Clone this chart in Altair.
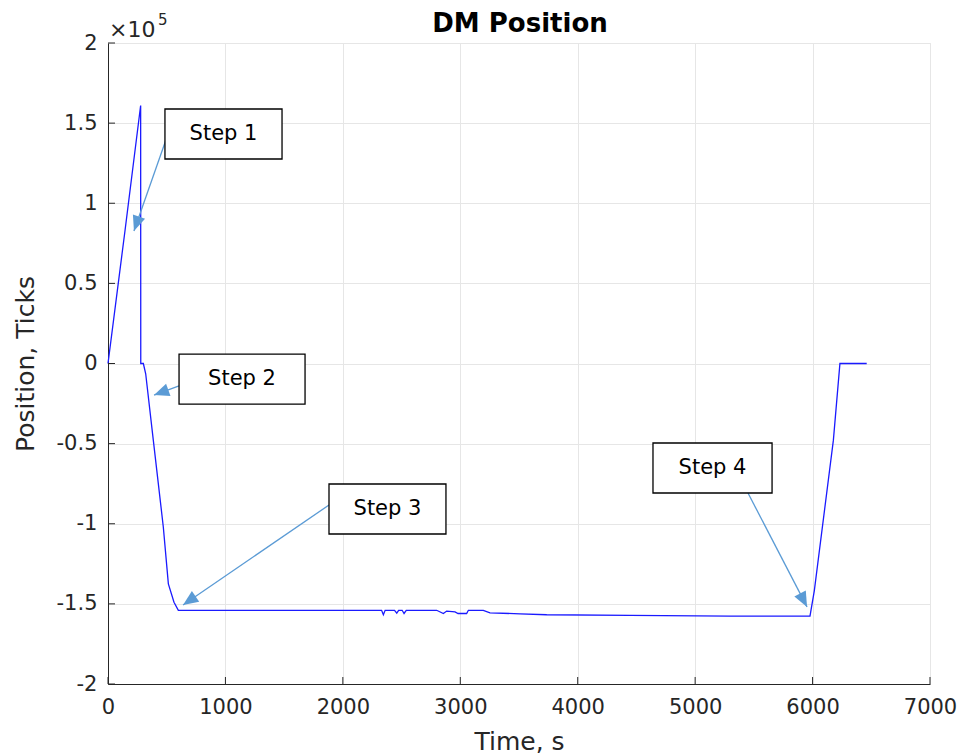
import math
import altair as alt
import pandas as pd

# ---- data ----
time_s = [0, 145, 278, 279, 301, 321, 386, 471, 514, 562, 599,
          2330, 2345, 2360, 2440, 2459, 2475, 2505, 2521, 2540,
          2799, 2856, 2884, 2955, 2981, 3054, 3069, 3196, 3253,
          3509, 3736, 4445, 5297, 5978, 6015, 6177, 6233, 6461]
position_ticks = [0, 83000, 161000, 0, 0, -6400, -48000, -102000, -137500, -149000, -154000,
                  -154000, -156800, -154000, -154000, -155800, -154000, -154000, -156000, -154000,
                  -154000, -156000, -154500, -155000, -156000, -156000, -154000, -154000, -155600,
                  -156200, -156800, -157200, -157700, -157700, -141700, -48000, 0, 0]

x_ticks = [0, 1000, 2000, 3000, 4000, 5000, 6000, 7000]
y_ticks = [-200000, -150000, -100000, -50000, 0, 50000, 100000, 150000, 200000]

step_labels = ["Step 1", "Step 2", "Step 3", "Step 4"]
box_x1 = [485, 605, 1882, 4641]
box_x2 = [1482, 1678, 2878, 5655]
box_y1 = [158800, 5900, -75200, -49600]
box_y2 = [127600, -25300, -106400, -80800]
arrow_x_from = [502, 605, 1882, 5450]
arrow_y_from = [141300, -14000, -88300, -80800]
arrow_x_to = [221, 392, 639, 5953]
arrow_y_to = [82700, -19700, -150700, -151900]

# ---- layout ----
W, H = 822, 641
XMAX, YMIN, YMAX = 7000, -200000, 200000
FONT = "DejaVu Sans"
AX = "#262626"
ARROW = "#5b9bd5"

xs = alt.Scale(domain=[0, XMAX], nice=False, zero=False)
ys = alt.Scale(domain=[YMIN, YMAX], nice=False, zero=False)
xa = alt.Axis(values=x_ticks, title="Time, s", grid=True, tickSize=0,
              labelPadding=12, labelFlush=False, labelOverlap=False,
              titleY=65, titleBaseline="alphabetic", format="d")
ya = alt.Axis(values=y_ticks, title="Position, Ticks", grid=True, tickSize=0,
              labelPadding=11, labelFlush=False, labelOverlap=False,
              labelExpr="'' + datum.value / 100000",
              titleX=-75, titleY=H / 2, titleAngle=270,
              titleBaseline="alphabetic", titleAlign="center")


def X(f):
    return alt.X(f, scale=xs, axis=xa, title="Time, s")


def Y(f):
    return alt.Y(f, scale=ys, axis=ya, title="Position, Ticks")


df = pd.DataFrame({"i": range(len(time_s)), "time": time_s, "pos": position_ticks})

# arrow angles computed from data coords through the chart scale
angles = []
for x0, y0, x1, y1 in zip(arrow_x_from, arrow_y_from, arrow_x_to, arrow_y_to):
    dx = (x1 - x0) * W / XMAX
    dy = -(y1 - y0) * H / (YMAX - YMIN)
    angles.append(math.degrees(math.atan2(dy, dx)) % 360)

ann = pd.DataFrame({
    "label": step_labels,
    "bx1": box_x1, "bx2": box_x2, "by1": box_y1, "by2": box_y2,
    "bxc": [(a + b) / 2 for a, b in zip(box_x1, box_x2)],
    "byc": [(a + b) / 2 for a, b in zip(box_y1, box_y2)],
    "ax0": arrow_x_from, "ay0": arrow_y_from,
    "ax1": arrow_x_to, "ay1": arrow_y_to, "ang": angles,
})

line = alt.Chart(df).mark_line(color="#1a1aff", strokeWidth=1.3).encode(
    x=X("time:Q"), y=Y("pos:Q"), order="i:Q")

xt = alt.Chart(pd.DataFrame({"v": x_ticks})).mark_rule(color=AX, strokeWidth=1).encode(
    x=X("v:Q"), y=alt.value(H), y2=alt.value(H - 7))
yt = alt.Chart(pd.DataFrame({"v": y_ticks})).mark_rule(color=AX, strokeWidth=1).encode(
    y=Y("v:Q"), x=alt.value(0), x2=alt.value(7))

boxes = alt.Chart(ann).mark_rect(fill="white", stroke="black", strokeWidth=1.3).encode(
    x=X("bx1:Q"), x2="bx2:Q", y=Y("by1:Q"), y2="by2:Q")
box_text = alt.Chart(ann).mark_text(font=FONT, fontSize=21, color="black",
                                    align="center", baseline="middle").encode(
    x=X("bxc:Q"), y=Y("byc:Q"), text="label:N")

arrows = alt.Chart(ann).mark_rule(color=ARROW, strokeWidth=1.3).encode(
    x=X("ax0:Q"), y=Y("ay0:Q"), x2="ax1:Q", y2="ay1:Q")
heads = alt.Chart(ann).mark_point(
    shape="M0,0 L-2,-0.85 L-2,0.85 Z", filled=True, size=230, color=ARROW, opacity=1
).encode(x=X("ax1:Q"), y=Y("ay1:Q"), angle=alt.Angle("ang:Q", scale=None))

title = alt.Chart(pd.DataFrame({"t": ["DM Position"]})).mark_text(
    font=FONT, fontSize=26, fontWeight="bold", color="black",
    align="center", baseline="alphabetic").encode(
    x=alt.value(W / 2 + 1), y=alt.value(-11), text="t:N")
exp_base = alt.Chart(pd.DataFrame({"t": ["×10"]})).mark_text(
    font=FONT, fontSize=22, color=AX, align="left", baseline="alphabetic").encode(
    x=alt.value(1), y=alt.value(-6), text="t:N")
exp_sup = alt.Chart(pd.DataFrame({"t": ["5"]})).mark_text(
    font=FONT, fontSize=15, color=AX, align="left", baseline="alphabetic").encode(
    x=alt.value(50), y=alt.value(-18), text="t:N")

chart = alt.layer(line, xt, yt, arrows, heads, boxes, box_text, title, exp_base, exp_sup).properties(
    width=W, height=H,
    autosize=alt.AutoSizeParams(type="none"),
    padding={"left": 108, "top": 43, "right": 31, "bottom": 71},
    background="white",
).configure_view(stroke="#e3e3e3", strokeWidth=1).configure_axis(
    labelFont=FONT, labelFontSize=21, labelColor=AX,
    titleFont=FONT, titleFontSize=25, titleFontWeight="normal", titleColor=AX,
    domainColor=AX, domainWidth=1, gridColor="#e6e6e6", gridWidth=1,
)

chart.save("out.html", embed_options={"renderer": "svg", "actions": False})
